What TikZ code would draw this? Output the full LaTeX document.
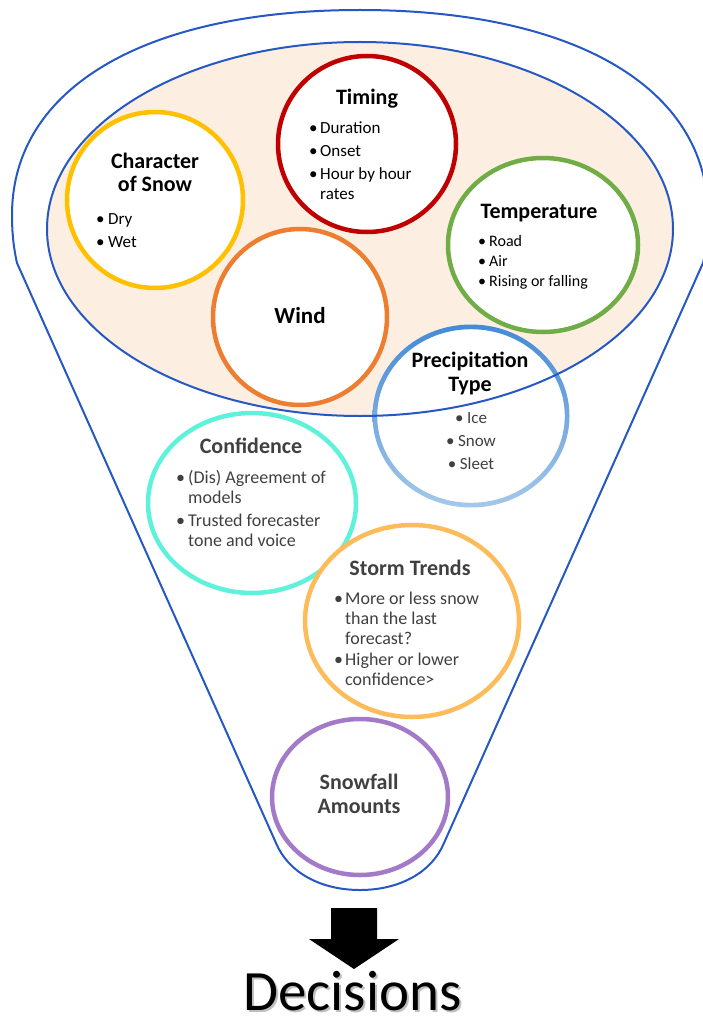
\documentclass[tikz,border=0pt]{standalone}
\usepackage{fontspec}
\setmainfont{Carlito}
\usetikzlibrary{shapes.geometric}
\definecolor{fblue}{RGB}{38,88,196}
\definecolor{beige}{RGB}{252,238,224}
\definecolor{cyel}{RGB}{255,192,0}
\definecolor{cred}{RGB}{192,0,0}
\definecolor{cgreen}{RGB}{112,173,71}
\definecolor{corange}{RGB}{237,125,49}
\definecolor{caqua}{RGB}{95,242,218}
\definecolor{clorange}{RGB}{253,187,90}
\definecolor{cpurple}{RGB}{162,122,200}
\definecolor{ptop}{RGB}{68,138,214}
\definecolor{pbot}{RGB}{165,200,234}
\definecolor{tgray}{RGB}{64,64,64}
\newlength{\bw}
\setlength{\bw}{12pt}
\newcommand{\bi}[1]{\makebox[\bw][l]{\textbullet}#1}
\newcommand{\bc}[1]{\hspace*{\bw}#1}
\tikzset{
  circ/.style={ellipse, fill=white, line width=4.5pt, inner sep=0pt},
  ttl/.style={font=\bfseries\fontsize{22}{24}\selectfont, inner sep=0pt, anchor=base},
  lst/.style={font=\fontsize{17}{20}\selectfont, inner sep=0pt, anchor=base west},
  funnel/.style={draw=fblue, line width=2pt, line join=round},
  bigtxt/.style={inner sep=0pt, anchor=base, text depth=0pt, font=\fontsize{57}{60}\selectfont}
}
\begin{document}
\begin{tikzpicture}[x=1pt,y=-1pt]
\useasboundingbox (0,0) rectangle (702,1019);
\fill[white] (0,0) rectangle (702,1019);

% funnel outline
\draw[funnel] (17,263) .. controls (13,245) and (12,230) .. (12,215)
  .. controls (12,88) and (145,10) .. (360,10)
  .. controls (575,10) and (708,88) .. (708,215)
  .. controls (708,230) and (707,245) .. (703,263)
  -- (444,843) .. controls (432,872) and (400,890) .. (360,890)
  .. controls (320,890) and (288,872) .. (276,843) -- cycle;

% bowl
\node[ellipse, fill=beige, minimum width=626pt, minimum height=374pt, inner sep=0pt] (bowl) at (360,229) {};

% upper circles
\node[circ, draw=cyel, minimum width=176pt, minimum height=176pt] (cs) at (155,200) {};
\node[circ, draw=cred, minimum width=178pt, minimum height=176pt] (tm) at (367,144) {};
\node[circ, draw=cgreen, minimum width=190pt, minimum height=174pt] (tp) at (543,245) {};
\node[circ, draw=corange, minimum width=174pt, minimum height=176pt] (wd) at (300,317) {};
\node[ellipse, fill=white, minimum width=192pt, minimum height=178pt, inner sep=0pt] (pt) at (471,416) {};
\shade[top color=ptop, bottom color=pbot, even odd rule]
  (pt.center) ellipse [x radius=98.5pt, y radius=91.5pt]
  (pt.center) ellipse [x radius=93.8pt, y radius=86.8pt];

% bowl rim
\draw[fblue, line width=2pt] (bowl.center) ellipse [x radius=313pt, y radius=187pt];

% lower circles
\node[circ, draw=caqua, minimum width=208pt, minimum height=180pt] (cf) at (252,503) {};
\node[circ, draw=clorange, minimum width=214pt, minimum height=192pt] (st) at (412,621) {};
\node[circ, draw=cpurple, minimum width=176pt, minimum height=156pt] (sf) at (360,797) {};

% texts
\node[ttl] (cs-t) at (155,168) {\begin{tabular}[t]{@{}c@{}}Character\\of Snow\end{tabular}};
\node[lst, font=\fontsize{17}{23}\selectfont] (cs-l) at (96,224) {\begin{tabular}[t]{@{}l@{}}\bi{Dry}\\\bi{Wet}\end{tabular}};

\node[ttl] (tm-t) at (367,105) {Timing};
\node[lst] (tm-l) at (309,134) {\setlength{\bw}{11pt}\begin{tabular}[t]{@{}l@{}}\bi{Duration}\\[3pt]\bi{Onset}\\[3pt]\bi{Hour by hour}\\\bc{rates}\end{tabular}};

\node[ttl] (tp-t) at (539,218) {Temperature};
\node[lst, font=\fontsize{16}{20}\selectfont] (tp-l) at (478,246) {\setlength{\bw}{11pt}\begin{tabular}[t]{@{}l@{}}\bi{Road}\\\bi{Air}\\\bi{Rising or falling}\end{tabular}};

\node[ttl, font=\bfseries\fontsize{23}{24}\selectfont] (wd-t) at (300,323) {Wind};

\node[ttl] (pt-t) at (470,367) {\begin{tabular}[t]{@{}c@{}}Precipitation\\Type\end{tabular}};
\node[inner sep=0pt, anchor=base, text=tgray, font=\fontsize{17}{23}\selectfont] (pt-l) at (471,423) {\begin{tabular}[t]{@{}c@{}}\bi{Ice}\\\bi{Snow}\\\bi{Sleet}\end{tabular}};

\node[ttl, text=tgray] (cf-t) at (251,453) {Confidence};
\node[lst, text=tgray, font=\fontsize{18}{20}\selectfont] (cf-l) at (176,483) {\begin{tabular}[t]{@{}l@{}}\bi{(Dis) Agreement of}\\\bc{models}\\[3pt]\bi{Trusted forecaster}\\\bc{tone and voice}\end{tabular}};

\node[ttl, text=tgray] (st-t) at (410,575) {Storm Trends};
\node[lst, text=tgray, font=\fontsize{18}{20}\selectfont] (st-l) at (334,604) {\setlength{\bw}{11pt}\begin{tabular}[t]{@{}l@{}}\bi{More or less snow}\\\bc{than the last}\\\bc{forecast?}\\[1.5pt]\bi{Higher or lower}\\\bc{confidence>}\end{tabular}};

\node[ttl, text=tgray] (sf-t) at (359,789) {\begin{tabular}[t]{@{}c@{}}Snowfall\\Amounts\end{tabular}};

% arrow
\fill[black] (331,908) -- (377,908) -- (377,939) -- (399,939) -- (354,969) -- (309,939) -- (331,939) -- cycle;

% decisions (with soft shadow)
\node[bigtxt, text=black, opacity=0.25] (dec-sh) at (354.5,1012) {Decisions};
\node[bigtxt] (dec) at (352.5,1010) {Decisions};
\end{tikzpicture}
\end{document}
